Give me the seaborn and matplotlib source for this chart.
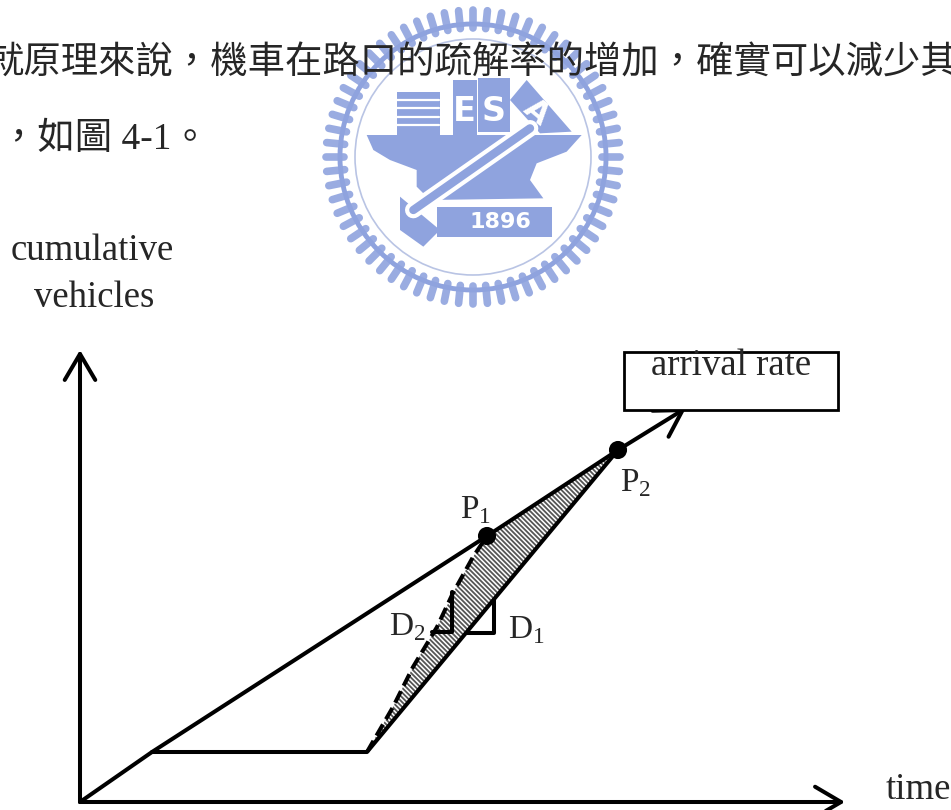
import numpy as np
import pandas as pd
import matplotlib
matplotlib.use('Agg')
import matplotlib.pyplot as plt
import matplotlib.patches as mpatches
import seaborn as sns

# chart values, measured from the origin of the time / vehicles axes
arrival_x = [0, 72, 407, 538, 606]
arrival_y = [0, 50, 266, 352, 394]
queue_x = [72, 287, 538]
queue_y = [50, 50, 352]
dashed_x = [287, 313, 333, 357, 373, 393, 407]
dashed_y = [50, 95, 135, 175, 209, 245, 266]
point_x = [407, 538]
point_y = [266, 352]
d1_x = [387, 414, 414]
d1_y = [169, 169, 202]
d2_x = [352, 372, 372]
d2_y = [170, 170, 210]

text_line1 = '就原理來說，機車在路口的疏解率的增加，確實可以減少其'
text_line2 = '，如圖 4-1。'
y_label = ['cumulative', 'vehicles']
x_label = 'time'
box_label = 'arrival rate'

BLUE = '#8fa3de'
ORIGIN = (80, 802)


def px(x, y):
    return x - ORIGIN[0], ORIGIN[1] - y


def zoomed(points):
    # logo outline was read in a 3x crop starting at x=310
    return [px(310 + a / 3, b / 3) for a, b in points]


def draw_logo(ax):
    cx, cy = px(473, 157)
    ax.add_patch(mpatches.Circle((cx, cy), 133, fc='none', ec=BLUE, lw=3.5, zorder=1))
    ax.add_patch(mpatches.Circle((cx, cy), 118, fc='none', ec='#b9c4e4', lw=1.2, zorder=1))
    for a in np.linspace(0, 2 * np.pi, 64, endpoint=False):
        ax.plot([cx + 129 * np.cos(a), cx + 147 * np.sin(a) * 0 + 147 * np.cos(a)],
                [cy + 129 * np.sin(a), cy + 147 * np.sin(a)],
                color=BLUE, lw=5.5, solid_capstyle='round', alpha=0.9, zorder=1)

    shapes = [
        [(170, 405), (815, 405), (770, 455), (680, 490), (660, 540), (700, 595),
         (360, 600), (320, 560), (320, 510), (240, 480), (190, 450)],
        [(260, 275), (390, 275), (390, 405), (260, 405)],
        [(430, 240), (500, 240), (500, 405), (430, 405)],
        [(505, 235), (600, 235), (600, 395), (505, 395)],
        [(600, 300), (650, 240), (785, 395), (690, 400)],
        [(270, 590), (390, 690), (340, 740), (270, 690)],
        [(380, 620), (725, 620), (725, 710), (380, 710)],
    ]
    for shape in shapes:
        xs, ys = zip(*zoomed(shape))
        ax.fill(xs, ys, color=BLUE, lw=0, zorder=1)

    # white stripes on the left building
    for b in [300, 325, 350, 375]:
        xs, ys = zip(*zoomed([(262, b), (388, b)]))
        ax.plot(xs, ys, color='white', lw=1.6, zorder=2)

    # hammer handle with its white border
    xs, ys = zip(*zoomed([(310, 630), (660, 385)]))
    ax.plot(xs, ys, color='white', lw=12, zorder=2)
    ax.plot(xs, ys, color=BLUE, lw=6, zorder=3)

    for label, a, b, size, rot in [('E', 462, 335, 24, 0), ('S', 552, 335, 24, 0),
                                   ('A', 680, 335, 22, -40), ('1896', 570, 665, 16, 0)]:
        tx, ty = zoomed([(a, b)])[0]
        ax.text(tx, ty, label, color='white', fontsize=size, rotation=rot, fontweight='bold',
                family='DejaVu Sans', ha='center', va='center', zorder=3)


def draw_chart(ax):
    line_kw = dict(color='black', linewidth=2.9, sort=False, estimator=None, ax=ax, legend=False)

    # shaded delay area between the dashed curve and the queue line
    hatch_x = dashed_x + [538]
    hatch_y = dashed_y + [352]
    plt.rcParams['hatch.linewidth'] = 1.3
    ax.fill(hatch_x, hatch_y, facecolor='white', edgecolor='#555555', hatch='\\' * 7, lw=0, zorder=2)

    arrival = pd.DataFrame({'t': arrival_x, 'n': arrival_y})
    sns.lineplot(data=arrival.iloc[:-1], x='t', y='n', zorder=4, **line_kw)
    sns.lineplot(x=queue_x, y=queue_y, zorder=4, **line_kw)
    sns.lineplot(x=dashed_x, y=dashed_y, linestyle=(0, (3.2, 1.5)), zorder=4, **line_kw)
    sns.lineplot(x=d1_x, y=d1_y, zorder=4, **line_kw)
    sns.lineplot(x=d2_x, y=d2_y, zorder=4, **line_kw)
    sns.scatterplot(x=point_x, y=point_y, color='black', s=170, edgecolor='none', ax=ax, zorder=5)

    arrow = dict(arrowstyle='->,head_length=0.85,head_width=0.5', color='black', lw=2.9,
                 shrinkA=0, shrinkB=0, mutation_scale=22)
    ax.annotate('', xy=(arrival_x[-1], arrival_y[-1]), xytext=(arrival_x[-2], arrival_y[-2]),
                arrowprops=arrow, zorder=4)
    ax.annotate('', xy=(0, 452), xytext=(0, 0), arrowprops=arrow)
    ax.annotate('', xy=(765, 0), xytext=(0, 0), arrowprops=arrow)


def draw_texts(ax):
    serif = ['Liberation Serif', 'Noto Sans CJK TC']
    x, y = px(-14, 64)
    ax.text(x, y, text_line1, fontsize=26.9, family=serif, ha='left', va='center', zorder=6)
    x, y = px(0, 140)
    ax.text(x, y, text_line2, fontsize=26.9, family=serif, ha='left', va='center', zorder=6)

    size = 26.5
    for label, cx, cy in [(y_label[0], 92, 251), (y_label[1], 94, 298), (x_label, 918, 790)]:
        x, y = px(cx, cy)
        ax.text(x, y, label, fontsize=size, family=serif, ha='center', va='center')

    x0, y0 = px(624, 410)
    x1, y1 = px(838, 352)
    ax.add_patch(mpatches.Rectangle((x0, y0), x1 - x0, y1 - y0, fc='white', ec='black', lw=2, zorder=6))
    x, y = px(731, 366)
    ax.text(x, y, box_label, fontsize=size, family=serif, ha='center', va='center', zorder=7)

    for label, cx, cy in [(r'P$_{\mathrm{1}}$', 476, 510), (r'P$_{\mathrm{2}}$', 636, 483),
                          (r'D$_{\mathrm{2}}$', 407, 627), (r'D$_{\mathrm{1}}$', 526, 630)]:
        x, y = px(cx, cy)
        ax.text(x, y, label, fontsize=24, family=serif, ha='center', va='center', zorder=7)


if __name__ == '__main__':
    sns.set_theme(style='white')
    plt.rcParams['mathtext.fontset'] = 'custom'
    plt.rcParams['mathtext.rm'] = 'Liberation Serif'

    fig = plt.figure(figsize=(9.51, 8.10), dpi=100)
    ax = fig.add_axes([0, 0, 1, 1])
    ax.set_xlim(-ORIGIN[0], 951 - ORIGIN[0])
    ax.set_ylim(ORIGIN[1] - 810, ORIGIN[1])
    draw_logo(ax)
    draw_chart(ax)
    draw_texts(ax)
    ax.set_xlabel('')
    ax.set_ylabel('')
    ax.axis('off')
    fig.savefig('out.png', dpi=100)
